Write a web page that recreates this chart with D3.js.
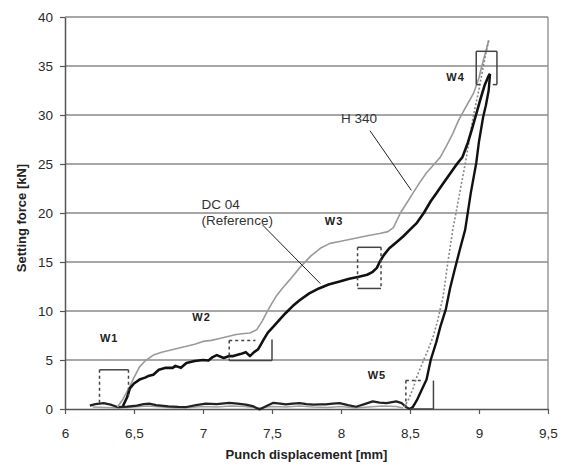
<!DOCTYPE html>
<html><head><meta charset="utf-8">
<script src="https://cdn.jsdelivr.net/npm/d3@7"></script>
<style>
body{margin:0;background:#fff;}
svg{display:block;font-family:"Liberation Sans",Arial,sans-serif;}
</style></head>
<body><svg id="c" width="565" height="466"></svg>
<script>
const xTicks = [6, 6.5, 7, 7.5, 8, 8.5, 9, 9.5];
const yTicks = [0, 5, 10, 15, 20, 25, 30, 35, 40];
const xTitle = "Punch displacement [mm]";
const yTitle = "Setting force [kN]";

// H 340 loading (gray)
const h340Load = [[6.38,0.2],[6.42,1.0],[6.47,2.3],[6.50,3.2],[6.54,4.3],[6.58,4.9],[6.64,5.5],[6.70,5.8],[6.76,6.0],[6.82,6.2],[6.88,6.4],[6.94,6.6],[7.0,6.9],[7.06,7.0],[7.12,7.2],[7.18,7.4],[7.24,7.6],[7.30,7.7],[7.34,7.75],[7.39,8.1],[7.43,9.0],[7.46,9.8],[7.50,10.8],[7.53,11.5],[7.58,12.4],[7.63,13.2],[7.70,14.4],[7.78,15.6],[7.85,16.4],[7.92,16.9],[7.99,17.1],[8.06,17.3],[8.13,17.5],[8.20,17.7],[8.28,17.9],[8.34,18.1],[8.38,18.5],[8.43,20.0],[8.48,21.1],[8.52,22.0],[8.57,23.1],[8.62,24.1],[8.67,24.9],[8.72,25.7],[8.77,27.0],[8.81,28.1],[8.85,29.4],[8.88,30.2],[8.92,31.2],[8.96,32.2],[9.0,33.8],[9.02,35],[9.05,36.5],[9.07,37.6]];
// H 340 unloading (gray dotted)
const h340Unload = [[9.07,37.6],[9.05,36.3],[9.03,34.9],[9.0,32.6],[8.96,30],[8.93,27.5],[8.9,25],[8.87,22.8],[8.84,20.5],[8.81,18.3],[8.78,15.5],[8.74,11.5],[8.70,9.0],[8.67,7.5],[8.63,6.0],[8.59,4.7],[8.55,3.3],[8.52,2.0],[8.49,1.0],[8.47,0.5],[8.45,0.1]];
// H 340 base (gray)
const h340Base = [[6.2,0.2],[6.3,0.15],[6.4,0.1],[6.5,0.2],[6.6,0.3],[6.7,0.2],[6.8,0.1],[6.9,0.15],[7.0,0.25],[7.1,0.2],[7.2,0.3],[7.3,0.25],[7.4,0.1],[7.5,0.25],[7.6,0.2],[7.7,0.3],[7.8,0.2],[7.9,0.15],[8.0,0.25],[8.1,0.1],[8.2,0.2],[8.3,0.3],[8.4,0.25],[8.45,0.1]];
// DC 04 loading (black)
const dc04Load = [[6.42,0.3],[6.45,1.2],[6.47,2.1],[6.50,2.6],[6.54,3.0],[6.58,3.2],[6.61,3.4],[6.64,3.5],[6.68,4.0],[6.73,4.2],[6.78,4.2],[6.80,4.4],[6.84,4.2],[6.88,4.7],[6.94,4.9],[7.0,5.0],[7.04,4.95],[7.07,5.3],[7.10,5.5],[7.15,5.2],[7.19,5.4],[7.22,5.4],[7.27,5.6],[7.31,5.8],[7.34,5.4],[7.37,5.8],[7.40,6.1],[7.42,6.6],[7.44,7.1],[7.47,7.8],[7.51,8.4],[7.56,9.2],[7.60,9.8],[7.65,10.5],[7.70,11.1],[7.77,11.8],[7.84,12.3],[7.91,12.7],[7.99,13.0],[8.06,13.3],[8.13,13.5],[8.19,13.7],[8.23,14.0],[8.26,14.4],[8.28,15.0],[8.31,15.7],[8.35,16.4],[8.40,17.0],[8.45,17.6],[8.50,18.3],[8.55,19.0],[8.60,20.0],[8.65,21.2],[8.69,22.0],[8.74,23.0],[8.79,24.0],[8.84,25.0],[8.88,25.7],[8.92,27.2],[8.95,28.6],[8.98,30.1],[9.01,31.6],[9.04,33.0],[9.07,34.0],[9.08,34.2]];
// DC 04 unloading (black)
const dc04Unload = [[9.08,34.2],[9.07,32.5],[9.05,31.0],[9.03,29.8],[9.0,27.3],[8.98,25.1],[8.94,22.0],[8.90,18.3],[8.86,16.2],[8.82,14.0],[8.79,12.3],[8.76,10.2],[8.72,8.4],[8.69,6.8],[8.65,5.0],[8.62,3.0],[8.58,1.8],[8.55,0.9],[8.52,0.2],[8.50,0.0]];
// DC 04 base (black)
const dc04Base = [[6.18,0.35],[6.22,0.5],[6.28,0.6],[6.33,0.45],[6.38,0.2],[6.45,0.25],[6.52,0.35],[6.57,0.5],[6.61,0.55],[6.66,0.4],[6.75,0.27],[6.82,0.22],[6.88,0.2],[6.95,0.4],[7.02,0.55],[7.10,0.5],[7.19,0.62],[7.25,0.55],[7.31,0.45],[7.36,0.3],[7.41,-0.05],[7.46,0.3],[7.51,0.63],[7.56,0.55],[7.60,0.47],[7.65,0.55],[7.70,0.6],[7.75,0.5],[7.80,0.45],[7.85,0.47],[7.89,0.47],[7.94,0.55],[7.99,0.6],[8.05,0.4],[8.11,0.23],[8.17,0.5],[8.23,0.78],[8.28,0.65],[8.33,0.6],[8.37,0.7],[8.40,0.78],[8.44,0.6],[8.47,0.2],[8.50,0.0]];

// W marker boxes: segments [x1,y1,x2,y2,dashed]
const wSegments = [
  [6.25,4,6.46,4,0],[6.25,4,6.25,0.6,1],[6.46,4,6.46,1.3,1],
  [7.19,7.0,7.38,7.0,1],[7.19,7.0,7.19,4.95,1],[7.19,4.95,7.5,4.95,0],[7.5,4.95,7.5,7.1,0],
  [8.12,16.5,8.29,16.5,0],[8.12,16.5,8.12,12.3,1],[8.12,12.3,8.29,12.3,0],[8.29,16.5,8.29,12.3,1],
  [8.98,36.5,9.13,36.5,0],[8.98,36.5,8.98,33.1,0],[8.98,33.1,9.01,33.1,0],[9.13,36.5,9.13,33.1,0],[9.13,33.1,9.10,33.1,0],
  [8.47,2.9,8.47,0,1],[8.47,2.9,8.58,2.9,1],[8.67,2.9,8.67,0,0],[8.5,0,8.67,0,0]
];
const wLabels = [["W1",6.32,6.8],["W2",6.99,9.0],["W3",7.95,18.8],["W4",8.83,33.5],["W5",8.26,3.1]];
const curveLabels = [["DC 04",6.99,20.4],["(Reference)",6.99,18.8],["H 340",8.0,29.2]];
const leaders = [[7.43,18.8,7.85,12.8],[8.21,28.4,8.51,22.3]];

const svg = d3.select("#c");
const m = {l:65, r:548, t:17, b:409};
const x = d3.scaleLinear().domain([6, 9.5]).range([m.l, m.r]);
const y = d3.scaleLinear().domain([0, 40]).range([m.b, m.t]);

// grid
svg.append("g").selectAll("line").data(yTicks.filter(d=>d>0)).join("line")
  .attr("x1", m.l).attr("x2", m.r).attr("y1", d=>y(d)).attr("y2", d=>y(d))
  .attr("stroke", "#8a8a8a").attr("stroke-width", 1.3);
svg.append("line").attr("x1", m.r).attr("x2", m.r).attr("y1", m.t).attr("y2", m.b)
  .attr("stroke", "#8a8a8a").attr("stroke-width", 1.3);

// axes
const fmt = d => String(d).replace(".", ",");
const xa = svg.append("g").attr("transform", `translate(0,${m.b})`)
  .call(d3.axisBottom(x).tickValues(xTicks).tickFormat(fmt).tickSize(5).tickPadding(14).tickSizeOuter(0));
const ya = svg.append("g").attr("transform", `translate(${m.l},0)`)
  .call(d3.axisLeft(y).tickValues(yTicks).tickFormat(fmt).tickSize(5).tickPadding(7).tickSizeOuter(0));
[xa, ya].forEach(a => {
  a.select(".domain").attr("stroke", "#555").attr("stroke-width", 1.5);
  a.selectAll(".tick line").attr("stroke", "#555").attr("stroke-width", 1.2);
  a.selectAll(".tick text").attr("font-size", 13.5).attr("fill", "#2a2a2a")
   .attr("font-family", "'Liberation Sans',Arial,sans-serif");
});

const line = d3.line().x(d=>x(d[0])).y(d=>y(d[1]));
const path = (data, color, w, dash) => svg.append("path").datum(data).attr("d", line)
  .attr("fill", "none").attr("stroke", color).attr("stroke-width", w)
  .attr("stroke-dasharray", dash || null).attr("stroke-linejoin", "round");

path(h340Base, "#a0a0a0", 1.6);
path(dc04Base, "#222", 2.2);
path(h340Load, "#9a9a9a", 1.6);
path(h340Unload, "#888", 1.6, "2,2");
path(dc04Load, "#111", 2.6);
path(dc04Unload, "#111", 2.4);

// W boxes
svg.append("g").selectAll("line").data(wSegments).join("line")
  .attr("x1", d=>x(d[0])).attr("y1", d=>y(d[1])).attr("x2", d=>x(d[2])).attr("y2", d=>y(d[3]))
  .attr("stroke", "#444").attr("stroke-width", 1.5)
  .attr("stroke-dasharray", d=>d[4] ? "3,3" : null);

svg.append("g").selectAll("text").data(wLabels).join("text")
  .attr("x", d=>x(d[1])).attr("y", d=>y(d[2])).attr("text-anchor", "middle")
  .attr("font-size", 11).attr("font-weight", "bold").attr("letter-spacing", 1).attr("fill", "#222")
  .text(d=>d[0]);

svg.append("g").selectAll("text").data(curveLabels).join("text")
  .attr("x", d=>x(d[1])).attr("y", d=>y(d[2]))
  .attr("font-size", 13.5).attr("fill", "#333").text(d=>d[0]);

svg.append("g").selectAll("line").data(leaders).join("line")
  .attr("x1", d=>x(d[0])).attr("y1", d=>y(d[1])).attr("x2", d=>x(d[2])).attr("y2", d=>y(d[3]))
  .attr("stroke", "#222").attr("stroke-width", 1);

// titles
svg.append("text").attr("x", (m.l+m.r)/2).attr("y", 459).attr("text-anchor", "middle")
  .attr("font-size", 13).attr("font-weight", "bold").attr("fill", "#222").text(xTitle);
svg.append("text").attr("transform", `translate(26,218) rotate(-90)`).attr("text-anchor", "middle")
  .attr("font-size", 13).attr("font-weight", "bold").attr("fill", "#222").text(yTitle);
</script></body></html>
